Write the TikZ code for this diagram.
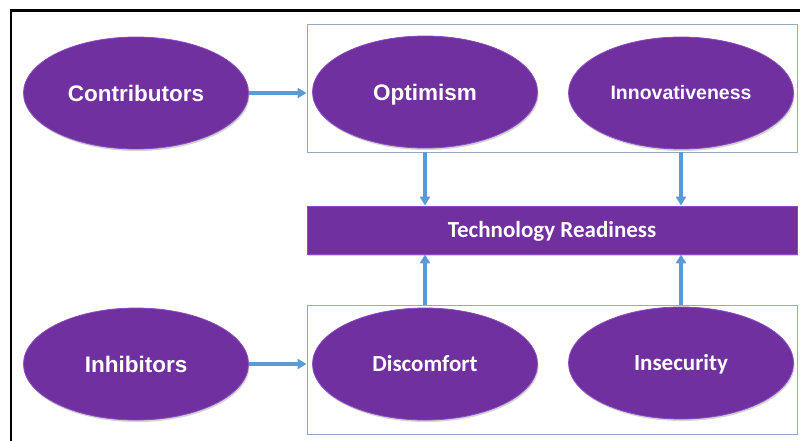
\documentclass[tikz,border=0pt]{standalone}
\usepackage{fontspec}
\setmainfont{Liberation Sans}
\newfontfamily\calib{Carlito}
\usetikzlibrary{shapes.geometric,arrows.meta,shadows}
\definecolor{purp}{HTML}{7030A0}
\definecolor{purpl}{HTML}{8A4CC0}
\definecolor{arr}{HTML}{5B9BD5}
\definecolor{grp}{HTML}{93A9C4}
\begin{document}
\begin{tikzpicture}[x=1pt,y=-1pt,
  oval/.style={ellipse,minimum width=225,minimum height=112,inner sep=0,
    fill=purp,draw=purpl,line width=0.8pt,text=white,text depth=0pt,
    drop shadow={shadow xshift=1pt,shadow yshift=-2pt,opacity=0.35,fill=gray}},
  arial/.style={font=\bfseries\fontsize{22.5}{26}\selectfont,text height=16.1pt},
  calfont/.style={font=\calib\bfseries\fontsize{23}{26}\selectfont,text height=14.8pt},
  grpbox/.style={draw=grp,line width=0.9pt},
  link/.style={draw=arr,line width=3.2pt,-{Triangle[length=9pt,width=10pt]}}]
\useasboundingbox (0,0) rectangle (800,441);
\draw[line width=2.5pt] (11,441) -- (11,10.5) -- (800,10.5);
\node[grpbox,minimum width=490,minimum height=128,inner sep=0] (topgrp) at (552,88) {};
\node[grpbox,minimum width=490,minimum height=129,inner sep=0] (botgrp) at (552,369.5) {};
\node[oval,arial] (contrib) at (136,93) {Contributors};
\node[oval,arial] (optim) at (425,92) {Optimism};
\node[oval,font=\bfseries\fontsize{19.5}{23}\selectfont,text height=14pt] (innov) at (681,93) {Innovativeness};
\node[oval,arial] (inhib) at (136,364) {Inhibitors};
\node[oval,calfont] (discom) at (425,364) {Discomfort};
\node[oval,calfont] (insec) at (681,363) {Insecurity};
\node[rectangle,minimum width=490,minimum height=48,inner sep=0,fill=purp,draw=purpl,
  line width=0.8pt,text=white,calfont,text depth=0pt,
  drop shadow={shadow xshift=1pt,shadow yshift=-2pt,opacity=0.35,fill=gray}] (tr) at (552,230) {Technology Readiness};
\draw[link] (contrib.east) -- (topgrp.west |- contrib.east);
\draw[link] (inhib.east) -- (botgrp.west |- inhib.east);
\draw[link] (optim.south |- topgrp.south) -- (optim.south |- tr.north);
\draw[link] (innov.south |- topgrp.south) -- (innov.south |- tr.north);
\draw[link] (discom.north |- botgrp.north) -- (discom.north |- tr.south);
\draw[link] (insec.north |- botgrp.north) -- (insec.north |- tr.south);
\end{tikzpicture}
\end{document}
